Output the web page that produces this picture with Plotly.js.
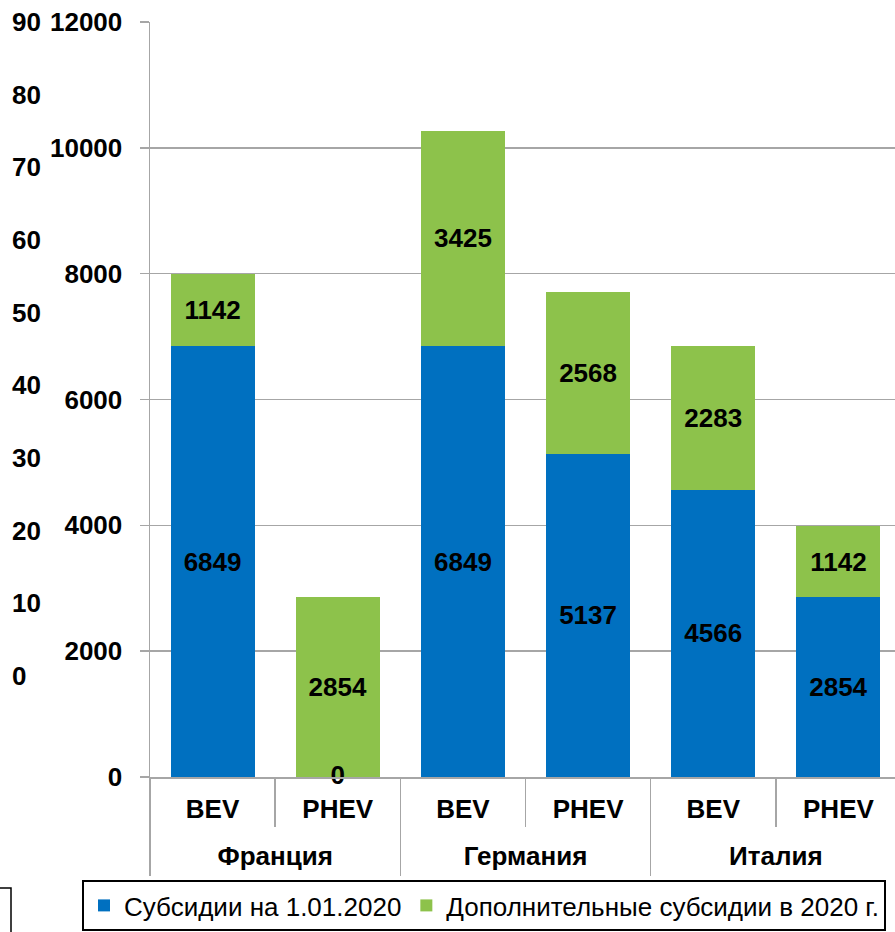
<!DOCTYPE html>
<html>
<head>
<meta charset="utf-8">
<script src="https://cdn.plot.ly/plotly-3.0.1.min.js"></script>
<style>html,body{margin:0;padding:0;background:#fff;overflow:hidden;}#chart{width:901px;height:932px;}</style>
</head>
<body>
<div id="chart"></div>
<script>
const groups = ["Франция", "Франция", "Германия", "Германия", "Италия", "Италия"];
const types = ["BEV", "PHEV", "BEV", "PHEV", "BEV", "PHEV"];
const baseSubsidy = [6849, 0, 6849, 5137, 4566, 2854];
const extraSubsidy = [1142, 2854, 3425, 2568, 2283, 1142];
const seriesNames = ["Субсидии на 1.01.2020", "Дополнительные субсидии в 2020 г."];
const leftTicks = [0, 2000, 4000, 6000, 8000, 10000, 12000];
const outerTicks = [0, 10, 20, 30, 40, 50, 60, 70, 80, 90];

const W = 901, H = 932;
const FONT = "Liberation Sans, Arial, sans-serif";
const BLUE = "#0070C0", GREEN = "#8DC24B", GRID = "#A6A6A6";
const labelFont = {family: FONT, size: 26, color: "#000", weight: "bold"};

// category positions on the axis
const idx = types.map((_, i) => i);
const boundaries = [-0.5].concat(idx.map(i => i + 0.5));
const groupNames = groups.filter((g, i) => groups.indexOf(g) === i);
const groupCenters = groupNames.map(g => {
  const ii = idx.filter(i => groups[i] === g);
  return (ii[0] + ii[ii.length - 1]) / 2;
});
const groupBounds = [-0.5].concat(groupNames.map(g => {
  const ii = idx.filter(i => groups[i] === g);
  return ii[ii.length - 1] + 0.5;
}));
const zeroIdx = idx.filter(i => baseSubsidy[i] === 0);

const traces = [
  {
    type: "bar", name: seriesNames[0],
    x: idx, y: baseSubsidy,
    marker: {color: BLUE},
    text: baseSubsidy.map(v => v === 0 ? "" : String(v)),
    textposition: "inside", insidetextanchor: "middle",
    textfont: labelFont, constraintext: "none", hoverinfo: "skip"
  },
  {
    type: "bar", name: seriesNames[1],
    x: idx, y: extraSubsidy,
    marker: {color: GREEN},
    text: extraSubsidy.map(v => String(v)),
    textposition: "inside", insidetextanchor: "middle",
    textfont: labelFont, constraintext: "none", hoverinfo: "skip"
  },
  {
    type: "scatter", mode: "text", showlegend: false, hoverinfo: "skip",
    x: zeroIdx, y: zeroIdx.map(i => baseSubsidy[i]),
    text: zeroIdx.map(i => String(baseSubsidy[i])),
    textposition: "middle center", textfont: labelFont, cliponaxis: false
  },
  {
    type: "scatter", mode: "markers", showlegend: false, hoverinfo: "skip",
    x: [0], y: [null], xaxis: "x2", yaxis: "y"
  },
  {
    type: "scatter", mode: "markers", showlegend: false, hoverinfo: "skip",
    x: [0], y: [null], xaxis: "x", yaxis: "y2"
  }
];

const layout = {
  width: W, height: H,
  margin: {l: 0, r: 0, t: 22, b: 0},
  paper_bgcolor: "#fff", plot_bgcolor: "rgba(0,0,0,0)",
  barmode: "stack", bargap: 0.33,
  showlegend: true,
  font: {family: FONT, color: "#000"},
  xaxis: {
    domain: [150 / W, 1], anchor: "y",
    range: [-0.5, types.length - 0.5],
    tickmode: "array", tickvals: idx, ticktext: types,
    showline: true, linecolor: GRID, linewidth: 1.5,
    showgrid: false, zeroline: false,
    ticks: "",
    minor: {tickmode: "array", tickvals: boundaries, ticks: "outside", ticklen: 48,
            tickcolor: GRID, tickwidth: 1.5, showgrid: false},
    ticklabelstandoff: 8,
    tickfont: labelFont,
    automargin: false
  },
  xaxis2: {
    overlaying: "x", anchor: "y", side: "bottom",
    range: [-0.5, types.length - 0.5],
    tickmode: "array", tickvals: groupCenters, ticktext: groupNames,
    showline: false, showgrid: false, zeroline: false,
    ticks: "",
    minor: {tickmode: "array", tickvals: groupBounds, ticks: "outside", ticklen: 98,
            tickcolor: GRID, tickwidth: 1.5, showgrid: false},
    ticklabelstandoff: 61,
    tickfont: labelFont,
    automargin: false
  },
  yaxis: {
    domain: [(H - 777) / 910, 1],
    range: [0, 12000],
    tickvals: leftTicks, ticktext: leftTicks.map(String),
    showline: true, linecolor: GRID, linewidth: 1.5,
    showgrid: true, gridcolor: GRID, gridwidth: 1.5,
    zeroline: false,
    ticks: "outside", ticklen: 9, tickcolor: GRID, tickwidth: 1.5,
    ticklabelstandoff: 12,
    tickfont: labelFont,
    automargin: false
  },
  yaxis2: {
    domain: [(H - 676) / 910, 1],
    range: [0, 90],
    anchor: "free", position: 11 / W, side: "right",
    tickvals: outerTicks, ticktext: outerTicks.map(String),
    showline: false, showgrid: false, zeroline: false,
    ticks: "", ticklabelstandoff: 0,
    tickfont: labelFont,
    automargin: false
  },
  legend: {
    orientation: "h",
    x: 82 / W, xanchor: "left",
    y: (H - 880) / 910, yanchor: "top",
    bgcolor: "#fff", bordercolor: "#000", borderwidth: 2,
    font: {family: FONT, size: 26, color: "#000"},
    itemwidth: 30, tracegroupgap: 0,
    traceorder: "normal"
  },
  shapes: [
    {type: "rect", xref: "paper", yref: "paper",
     x0: -0.02, x1: 11 / W, y0: -0.02, y1: (H - 888) / 910,
     line: {color: "#000", width: 1.5}, fillcolor: "rgba(0,0,0,0)"}
  ]
};

Plotly.newPlot("chart", traces, layout, {displayModeBar: false, staticPlot: true});
</script>
</body>
</html>
